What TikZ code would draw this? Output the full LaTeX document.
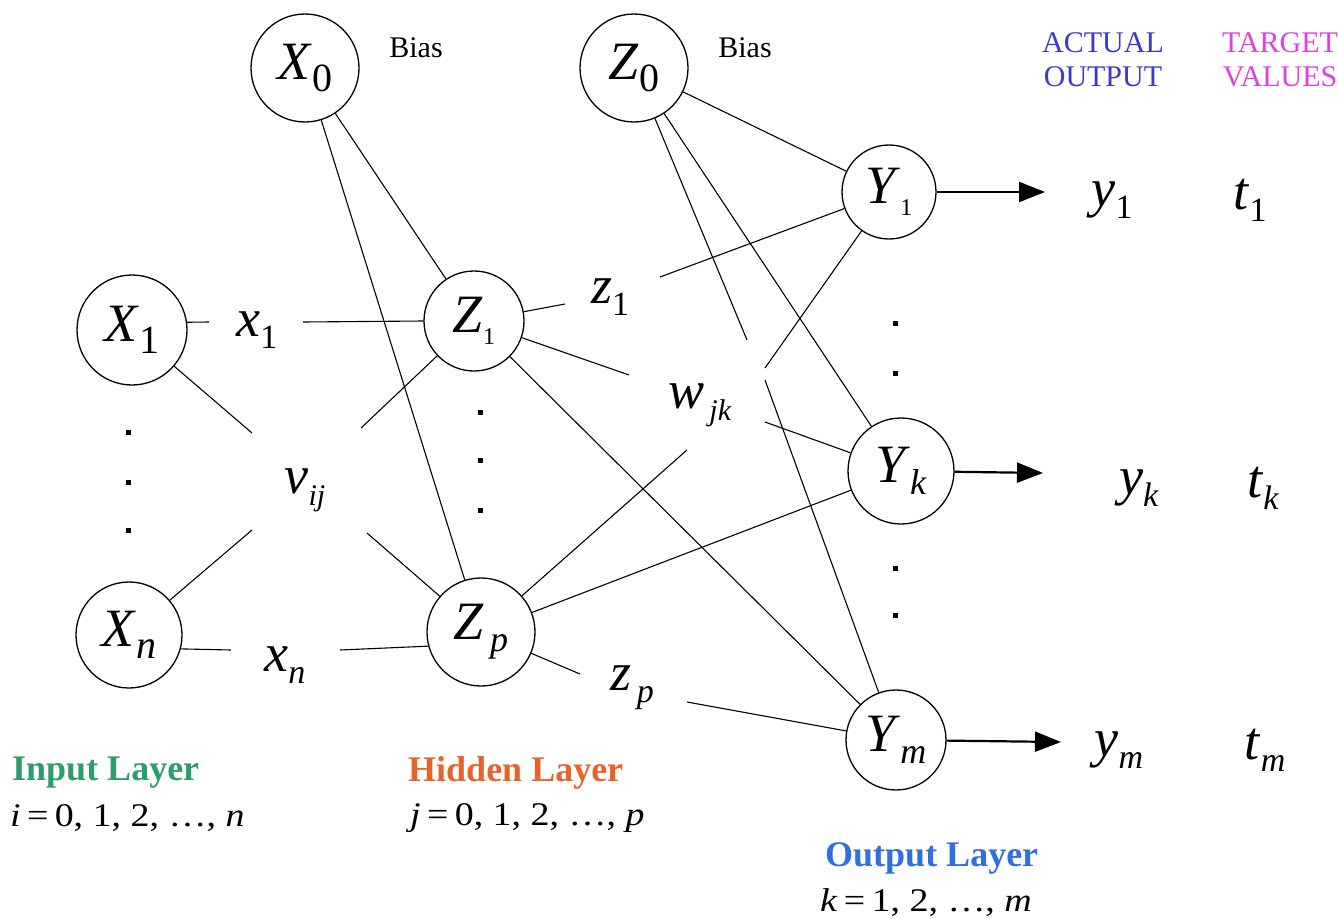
\documentclass[tikz,border=0pt]{standalone}
\usepackage{fontspec}
\usepackage{graphicx}
\setmainfont{Liberation Serif}
\usetikzlibrary{arrows.meta,calc}
\definecolor{ingreen}{HTML}{2E9C6B}
\definecolor{hidorange}{HTML}{E8632A}
\definecolor{outblue}{HTML}{2F6FE0}
\definecolor{actblue}{HTML}{3A3AD0}
\definecolor{tarmag}{HTML}{E040E0}
\newcommand\sbl[3][36]{\textit{#2}\raisebox{-12pt}{\fontsize{#1}{#1}\selectfont #3}}
\newcommand\widen[1]{\scalebox{1.15}[1]{#1}}
\begin{document}
\begin{tikzpicture}[x=1pt,y=-1pt,
  neuron/.style={circle,draw,line width=1.3pt,inner sep=0pt,minimum size=#1,font=\fontsize{54}{58}\selectfont},
  wlab/.style={inner sep=0pt,font=\fontsize{54}{58}\selectfont},
  link/.style={line width=1.1pt},
  outarrow/.style={line width=2.2pt,-{Triangle[length=26pt,width=20pt]}},
  dotn/.style={rectangle,fill=black,inner sep=0pt,minimum size=5pt},
  smalltxt/.style={inner sep=0pt,font=\fontsize{30}{34}\selectfont,align=center},
  lyrtxt/.style={inner sep=0pt,anchor=west,font=\fontsize{36}{40}\selectfont\bfseries},
  rangetxt/.style={inner sep=0pt,anchor=west,font=\fontsize{33}{36}\selectfont}]
\useasboundingbox (0,0) rectangle (1338,918);
% neurons
\node[neuron=108] (X0) at (305,68) {\sbl[40]{X}{0}};
\node[neuron=108] (Z0) at (634,68) {\sbl[40]{Z}{0}};
\node[neuron=110] (X1) at (132,330) {\sbl[40]{X}{1}};
\node[neuron=106] (Xn) at (129,635) {\sbl[40]{X}{\textit{n}}};
\node[neuron=100] (Z1) at (474,321) {\sbl[24]{Z}{1}};
\node[neuron=108] (Zp) at (481,632) {\sbl[36]{Z}{\,\textit{p}}};
\node[neuron=94] (Y1) at (889,192) {\sbl[24]{Y}{1}};
\node[neuron=106] (Yk) at (901,471) {\sbl[36]{Y}{\textit{k}}};
\node[neuron=100] (Ym) at (896,740) {\sbl[36]{Y}{\textit{m}}};
% edge labels
\node[wlab] (lx1) at (257,330) {\sbl[34]{x}{1}};
\node[wlab] (lxn) at (285,665) {\sbl[34]{x}{\textit{n}}};
\node[wlab] (lz1) at (610,297) {\sbl[34]{z}{1}};
\node[wlab] (lzp) at (632,688) {\sbl[34]{z}{\,\textit{p}}};
\node[wlab] (lw) at (700,405) {\sbl[30]{w}{\,\textit{jk}}};
\node[wlab] (lv) at (305,490) {\sbl[30]{v}{\textit{ij}}};
% outputs
\node[wlab] (y1) at (1112,200) {\sbl[34]{y}{1}};
\node[wlab] (t1) at (1250,200) {\sbl[34]{t}{1}};
\node[wlab] (yk) at (1139,488) {\sbl[34]{y}{\textit{k}}};
\node[wlab] (tk) at (1263,488) {\sbl[34]{t}{\textit{k}}};
\node[wlab] (ym) at (1119,750) {\sbl[34]{y}{\textit{m}}};
\node[wlab] (tm) at (1265,750) {\sbl[34]{t}{\textit{m}}};
% texts
\node[smalltxt] (b0) at (416,48) {Bias};
\node[smalltxt] (b1) at (745,48) {Bias};
\node[smalltxt,text=actblue] (act) at (1103,60) {ACTUAL\\OUTPUT};
\node[smalltxt,text=tarmag] (tar) at (1280,60) {TARGET\\VALUES};
\node[lyrtxt,text=ingreen] (inl) at (12,773) {Input Layer};
\node[rangetxt] (inr) at (10,818) {\widen{\textit{i}\,=\,0, 1, 2, \ldots, \textit{n}}};
\node[lyrtxt,text=hidorange] (hidl) at (408,773) {Hidden Layer};
\node[rangetxt] (hidr) at (410,818) {\widen{\textit{j}\,=\,0, 1, 2, \ldots, \textit{p}}};
\node[lyrtxt,text=outblue] (outl) at (825,858) {Output Layer};
\node[rangetxt] (outr) at (820,903) {\widen{\textit{k}\,=\,1, 2, \ldots, \textit{m}}};
% dots
\node[dotn] (d1) at (128,432) {};
\node[dotn] (d2) at (128,482) {};
\node[dotn] (d3) at (128,530) {};
\node[dotn] (d4) at (480,412) {};
\node[dotn] (d5) at (480,460) {};
\node[dotn] (d6) at (480,510) {};
\node[dotn] (d7) at (895,323) {};
\node[dotn] (d8) at (895,373) {};
\node[dotn] (d9) at (895,568) {};
\node[dotn] (d10) at (895,615) {};
% gap coordinates
\coordinate (gx1a) at (209,322);
\coordinate (gx1b) at (303,322);
\coordinate (gxna) at (231,650);
\coordinate (gxnb) at (340,650);
\coordinate (v1) at (252,433);
\coordinate (v2) at (252,530);
\coordinate (v3) at (361,428);
\coordinate (v4) at (367,533);
\coordinate (gz1a) at (565,304);
\coordinate (gz1b) at (660,277);
\coordinate (gw1) at (629,375);
\coordinate (gw2) at (765,422);
\coordinate (gm1) at (747,340);
\coordinate (gm2) at (765,380);
\coordinate (gp1) at (687,450);
\coordinate (gp2) at (765,368);
\coordinate (gzpa) at (580,674);
\coordinate (gzpb) at (687,702);
\coordinate (a1) at (1045,192);
\coordinate (ak) at (1043,473);
\coordinate (am) at (1061,742);
% connectors
\draw[link] (X1.8) -- (gx1a);
\draw[link] (gx1b) -- (Z1.180);
\draw[link] (Xn.-15) -- (gxna);
\draw[link] (gxnb) -- (Zp.195);
\draw[link] (X1) -- (v1);
\draw[link] (Xn) -- (v2);
\draw[link] (Z1) -- (v3);
\draw[link] (Zp) -- (v4);
\draw[link] (X0) -- (Z1);
\draw[link] (X0) -- (Zp);
\draw[link] (Z0) -- (Y1);
\draw[link] (Z0) -- (Yk);
\draw[link] (Z0) -- (gm1);
\draw[link] (gm2) -- (Ym);
\draw[link] (Z1) -- (gz1a);
\draw[link] (gz1b) -- (Y1);
\draw[link] (Z1) -- (gw1);
\draw[link] (gw2) -- (Yk);
\draw[link] (Z1) -- (Ym);
\draw[link] (Zp) -- (gp1);
\draw[link] (gp2) -- (Y1);
\draw[link] (Zp) -- (Yk);
\draw[link] (Zp) -- (gzpa);
\draw[link] (gzpb) -- (Ym);
\draw[outarrow] (Y1) -- (a1);
\draw[outarrow] (Yk) -- (ak);
\draw[outarrow] (Ym) -- (am);
\end{tikzpicture}
\end{document}
